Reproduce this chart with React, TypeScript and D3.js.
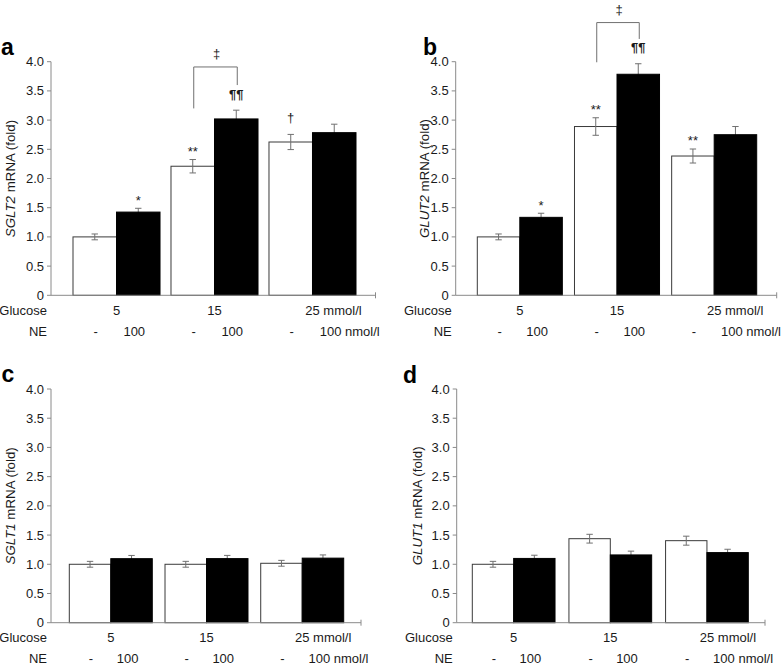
import React from "react";
import * as d3 from "d3";

// ---------- data ----------
const glucoseLevels = ["5", "15", "25"];
const glucoseUnit = "mmol/l";
const neDoses = ["-", "100"];
const neUnit = "nmol/l";
const series = ["control", "ne"];
const yTicks = [0, 0.5, 1, 1.5, 2, 2.5, 3, 3.5, 4];

const sglt2Control = [1.0, 2.21, 2.625];
const sglt2ControlErr = [0.05, 0.115, 0.13];
const sglt2NE = [1.425, 3.02, 2.785];
const sglt2NEErr = [0.065, 0.15, 0.145];

const glut2Control = [1.0, 2.89, 2.385];
const glut2ControlErr = [0.05, 0.15, 0.12];
const glut2NE = [1.335, 3.785, 2.75];
const glut2NEErr = [0.07, 0.18, 0.14];

const sglt1Control = [1.0, 1.0, 1.017];
const sglt1ControlErr = [0.05, 0.05, 0.05];
const sglt1NE = [1.096, 1.097, 1.105];
const sglt1NEErr = [0.055, 0.055, 0.055];

const glut1Control = [1.0, 1.438, 1.404];
const glut1ControlErr = [0.05, 0.075, 0.077];
const glut1NE = [1.1, 1.16, 1.2];
const glut1NEErr = [0.055, 0.065, 0.057];

// significance marks: [group index, series, symbol]
const sglt2Marks: [number, string, string][] = [
  [0, "ne", "*"],
  [1, "control", "**"],
  [1, "ne", "¶¶"],
  [2, "control", "†"],
];
const glut2Marks: [number, string, string][] = [
  [0, "ne", "*"],
  [1, "control", "**"],
  [1, "ne", "¶¶"],
  [2, "control", "**"],
];
// bracket between control and NE at 15 mmol/l: [top, left end, right end] in fold units
const sglt2Bracket = [3.91, 3.2, 3.6];
const glut2Bracket = [4.67, 3.99, 4.39];

// ---------- layout ----------
const FONT = "'Liberation Sans', Arial, Helvetica, sans-serif";
const AXIS = "#8a8a8a";
const TXT = "#1a1a1a";

type Layout = {
  axisX: number; axisEnd: number; yTop: number; yBot: number;
  barStart: number; barEnd: number; pad: number;
  letterX: number; letterY: number; ylabX: number;
};

const layoutA: Layout = { axisX: 51, axisEnd: 375.5, yTop: 61.7, yBot: 295.3, barStart: 73, barEnd: 356, pad: 0.112, letterX: 1, letterY: 55, ylabX: 15 };
const layoutB: Layout = { axisX: 455.7, axisEnd: 776.7, yTop: 61.7, yBot: 295.3, barStart: 477.3, barEnd: 756.7, pad: 0.125, letterX: 423, letterY: 55, ylabX: 429 };
const layoutC: Layout = { axisX: 51, axisEnd: 361, yTop: 389, yBot: 622.7, barStart: 69.3, barEnd: 343.7, pad: 0.133, letterX: 1.5, letterY: 382, ylabX: 15 };
const layoutD: Layout = { axisX: 456.7, axisEnd: 765, yTop: 389, yBot: 622.7, barStart: 472.3, barEnd: 748.3, pad: 0.144, letterX: 403, letterY: 383, ylabX: 422 };

type PanelProps = {
  L: Layout; letter: string; gene: string;
  ctrl: number[]; ctrlErr: number[]; ne: number[]; neErr: number[];
  marks?: [number, string, string][]; bracket?: number[];
};

function Panel({ L, letter, gene, ctrl, ctrlErr, ne, neErr, marks, bracket }: PanelProps) {
  const x0 = d3.scaleBand().domain(glucoseLevels).range([L.barStart, L.barEnd]).paddingInner(L.pad).paddingOuter(0);
  const x1 = d3.scaleBand().domain(series).range([0, x0.bandwidth()]);
  const y = d3.scaleLinear().domain([0, 4]).range([L.yBot, L.yTop]);
  const bw = x1.bandwidth();
  const vals: Record<string, number[]> = { control: ctrl, ne };
  const errs: Record<string, number[]> = { control: ctrlErr, ne: neErr };
  const cx = (g: number, s: string) => (x0(glucoseLevels[g]) as number) + (x1(s) as number) + bw / 2;
  const cap = 3.2;
  const fmt = (d: number) => (d === 0 ? "0" : d3.format(".1f")(d));

  const errBar = (g: number, s: string, key: string) => {
    const v = vals[s][g], e = errs[s][g], c = cx(g, s);
    return (
      <g key={key} stroke="#707070" strokeWidth={1}>
        <line x1={c} x2={c} y1={y(v + e)} y2={y(v - e)} />
        <line x1={c - cap} x2={c + cap} y1={y(v + e)} y2={y(v + e)} />
        <line x1={c - cap} x2={c + cap} y1={y(v - e)} y2={y(v - e)} />
      </g>
    );
  };

  const rowY1 = L.yBot + 19.5;
  const rowY2 = L.yBot + 40.5;
  const midY = (L.yTop + L.yBot) / 2;

  return (
    <g fontFamily={FONT}>
      {/* panel letter */}
      <text x={L.letterX} y={L.letterY} fontSize={23} fontWeight="bold" fill="#000">{letter}</text>
      {/* y label */}
      <text transform={`translate(${L.ylabX},${midY}) rotate(-90)`} textAnchor="middle" fontSize={13.3} fill={TXT}>
        <tspan fontStyle="italic">{gene}</tspan>
        <tspan> mRNA (fold)</tspan>
      </text>
      {/* y axis */}
      <line x1={L.axisX} x2={L.axisX} y1={y(4)} y2={y(0)} stroke={AXIS} strokeWidth={1} />
      {yTicks.map((t) => (
        <g key={t}>
          <line x1={L.axisX - 4} x2={L.axisX} y1={y(t)} y2={y(t)} stroke={AXIS} strokeWidth={1} />
          <text x={L.axisX - 7} y={y(t)} dy="0.35em" textAnchor="end" fontSize={13} fill={TXT}>{fmt(t)}</text>
        </g>
      ))}
      {/* NE error bars (behind black bars) */}
      {glucoseLevels.map((_, g) => errBar(g, "ne", "ne-e" + g))}
      {/* bars */}
      {glucoseLevels.map((lvl, g) =>
        series.map((s) => (
          <rect key={lvl + s}
            x={(x0(lvl) as number) + (x1(s) as number)}
            y={y(vals[s][g])}
            width={bw}
            height={y(0) - y(vals[s][g])}
            fill={s === "ne" ? "#000" : "#fff"}
            stroke={s === "ne" ? "#000" : "#3a3a3a"}
            strokeWidth={1}
          />
        ))
      )}
      {/* control error bars */}
      {glucoseLevels.map((_, g) => errBar(g, "control", "c-e" + g))}
      {/* x axis */}
      <line x1={L.axisX} x2={L.axisEnd} y1={y(0)} y2={y(0)} stroke={AXIS} strokeWidth={1} />
      <line x1={L.axisEnd} x2={L.axisEnd} y1={y(0) - 3} y2={y(0) + 3} stroke={AXIS} strokeWidth={1} />
      {/* significance marks */}
      {(marks || []).map(([g, s, sym], i) => {
        const top = y(vals[s][g] + errs[s][g]);
        const off = sym === "¶¶" ? 11.3 : sym === "†" ? 12 : 3.6;
        return (
          <text key={"m" + i} x={cx(g, s)} y={top - off} textAnchor="middle" fontSize={13}
            fontWeight={sym === "¶¶" ? "bold" : "normal"} fill={TXT}>{sym}</text>
        );
      })}
      {bracket && (
        <g>
          <path
            d={`M${cx(1, "control") + 1},${y(bracket[1])}V${y(bracket[0])}H${cx(1, "ne") + 1}V${y(bracket[2])}`}
            fill="none" stroke="#707070" strokeWidth={1} />
          <text x={(cx(1, "control") + cx(1, "ne")) / 2 + 2} y={y(bracket[0]) - 9} textAnchor="middle" fontSize={13} fill={TXT}>‡</text>
        </g>
      )}
      {/* category rows */}
      <text x={L.axisX - 4} y={rowY1} textAnchor="end" fontSize={13} fill={TXT}>Glucose</text>
      <text x={L.axisX - 4} y={rowY2} textAnchor="end" fontSize={13} fill={TXT}>NE</text>
      {glucoseLevels.map((lvl, g) => {
        const c = (x0(lvl) as number) + x0.bandwidth() / 2;
        const last = g === glucoseLevels.length - 1;
        return (
          <g key={"row" + lvl}>
            {last ? (
              <text x={c - 7.2} y={rowY1} fontSize={13} fill={TXT}>{lvl + " " + glucoseUnit}</text>
            ) : (
              <text x={c} y={rowY1} textAnchor="middle" fontSize={13} fill={TXT}>{lvl}</text>
            )}
            <text x={cx(g, "control") + 1} y={rowY2} textAnchor="middle" fontSize={13} fill={TXT}>{neDoses[0]}</text>
            {last ? (
              <text x={cx(g, "ne") - 14.5} y={rowY2} fontSize={13} fill={TXT}>{neDoses[1] + " " + neUnit}</text>
            ) : (
              <text x={cx(g, "ne") - 4} y={rowY2} textAnchor="middle" fontSize={13} fill={TXT}>{neDoses[1]}</text>
            )}
          </g>
        );
      })}
    </g>
  );
}

export default function App() {
  return (
    <svg width={782} height={665} style={{ position: "absolute", left: 0, top: 0, display: "block", background: "#fff" }}>
      <rect x={0} y={0} width={782} height={665} fill="#fff" />
      <Panel L={layoutA} letter="a" gene="SGLT2" ctrl={sglt2Control} ctrlErr={sglt2ControlErr} ne={sglt2NE} neErr={sglt2NEErr} marks={sglt2Marks} bracket={sglt2Bracket} />
      <Panel L={layoutB} letter="b" gene="GLUT2" ctrl={glut2Control} ctrlErr={glut2ControlErr} ne={glut2NE} neErr={glut2NEErr} marks={glut2Marks} bracket={glut2Bracket} />
      <Panel L={layoutC} letter="c" gene="SGLT1" ctrl={sglt1Control} ctrlErr={sglt1ControlErr} ne={sglt1NE} neErr={sglt1NEErr} />
      <Panel L={layoutD} letter="d" gene="GLUT1" ctrl={glut1Control} ctrlErr={glut1ControlErr} ne={glut1NE} neErr={glut1NEErr} />
    </svg>
  );
}
